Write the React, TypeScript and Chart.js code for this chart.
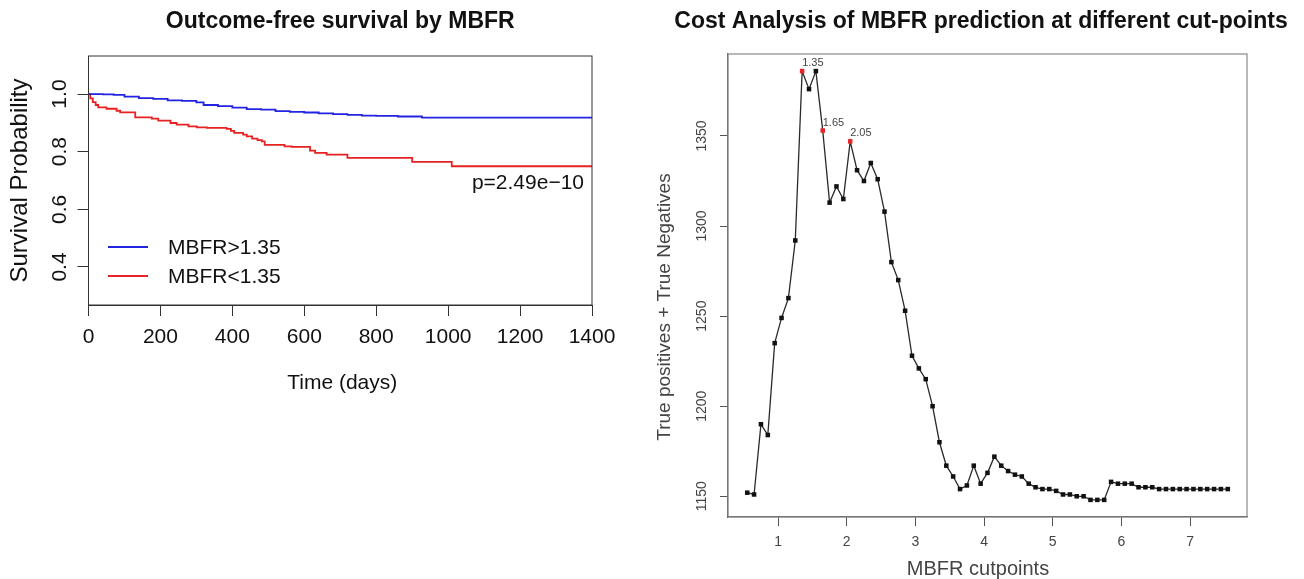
import React, { useEffect, useRef } from 'react';
import { Chart, registerables } from 'chart.js';
Chart.register(...registerables);

const FONT = '"Liberation Sans", Arial, Helvetica, sans-serif';

// ---------- Left panel: Kaplan-Meier ----------
const kmTimeHigh = [0, 40, 70, 100, 140, 180, 220, 260, 300, 320, 360, 400, 440, 480, 520, 560, 600, 640, 680, 720, 760, 800, 860, 927, 1400];
const kmSurvHigh = [1.0, 0.999, 0.997, 0.991, 0.986, 0.983, 0.978, 0.976, 0.971, 0.962, 0.958, 0.953, 0.948, 0.946, 0.941, 0.938, 0.936, 0.933, 0.930, 0.928, 0.925, 0.924, 0.922, 0.918, 0.918];
const kmTimeLow = [0, 5, 12, 20, 27, 50, 78, 88, 130, 176, 194, 228, 245, 278, 301, 329, 384, 396, 405, 430, 440, 455, 470, 482, 490, 545, 565, 616, 630, 662, 720, 900, 1010, 1400];
const kmSurvLow = [1.0, 0.985, 0.972, 0.962, 0.954, 0.949, 0.942, 0.9365, 0.919, 0.9145, 0.9076, 0.8996, 0.8938, 0.888, 0.8846, 0.8823, 0.8789, 0.872, 0.865, 0.859, 0.853, 0.8453, 0.84, 0.836, 0.8235, 0.8187, 0.8166, 0.804, 0.796, 0.79, 0.7785, 0.7647, 0.7495, 0.7495];
const kmXTicks = [0, 200, 400, 600, 800, 1000, 1200, 1400];
const kmYTicks = [0.4, 0.6, 0.8, 1.0];
const kmSeriesLabels = ['MBFR>1.35', 'MBFR<1.35'];
const kmSeriesColors = ['#2323E4', '#E62222'];
const kmTitle = 'Outcome-free survival by MBFR';
const kmXLabel = 'Time (days)';
const kmYLabel = 'Survival Probability';
const pValueText = 'p=2.49e\u221210';

// ---------- Right panel: cost analysis ----------
const cutpoints = [
  0.55, 0.65, 0.75, 0.85, 0.95, 1.05, 1.15, 1.25, 1.35, 1.45,
  1.55, 1.65, 1.75, 1.85, 1.95, 2.05, 2.15, 2.25, 2.35, 2.45,
  2.55, 2.65, 2.75, 2.85, 2.95, 3.05, 3.15, 3.25, 3.35, 3.45,
  3.55, 3.65, 3.75, 3.85, 3.95, 4.05, 4.15, 4.25, 4.35, 4.45,
  4.55, 4.65, 4.75, 4.85, 4.95, 5.05, 5.15, 5.25, 5.35, 5.45,
  5.55, 5.65, 5.75, 5.85, 5.95, 6.05, 6.15, 6.25, 6.35, 6.45,
  6.55, 6.65, 6.75, 6.85, 6.95, 7.05, 7.15, 7.25, 7.35, 7.45,
  7.55,
];
const tpTn = [
  1152, 1151, 1190, 1184, 1235, 1249, 1260, 1292, 1386, 1376,
  1386, 1353, 1313, 1322, 1315, 1347, 1331, 1325, 1335, 1326,
  1308, 1280, 1270, 1253, 1228, 1221, 1215, 1200, 1180, 1167,
  1161, 1154, 1156, 1167, 1157, 1163, 1172, 1167, 1164, 1162,
  1161, 1157, 1155, 1154, 1154, 1153, 1151, 1151, 1150, 1150,
  1148, 1148, 1148, 1158, 1157, 1157, 1157, 1155, 1155, 1155,
  1154, 1154, 1154, 1154, 1154, 1154, 1154, 1154, 1154, 1154,
  1154,
];
const highlightedCuts = [1.35, 1.65, 2.05];
const costXTicks = [1, 2, 3, 4, 5, 6, 7];
const costYTicks = [1150, 1200, 1250, 1300, 1350];
const costTitle = 'Cost Analysis of MBFR prediction at different cut-points';
const costXLabel = 'MBFR cutpoints';
const costYLabel = 'True positives + True Negatives';

const isHighlighted = (c: number) => highlightedCuts.some((h) => Math.abs(h - c) < 1e-6);

function SurvivalChart() {
  const ref = useRef<HTMLCanvasElement>(null);
  useEffect(() => {
    const overlay = {
      id: 'kmOverlay',
      afterDraw(chart: any) {
        const { ctx, chartArea } = chart;
        const cx = (chartArea.left + chartArea.right) / 2;
        const cy = (chartArea.top + chartArea.bottom) / 2;
        ctx.save();
        ctx.strokeStyle = '#333';
        ctx.lineWidth = 1;
        ctx.strokeRect(chartArea.left, chartArea.top, chartArea.right - chartArea.left, chartArea.bottom - chartArea.top);
        ctx.fillStyle = '#111';
        ctx.textAlign = 'center';
        ctx.textBaseline = 'middle';
        ctx.font = `bold 23px ${FONT}`;
        ctx.fillText(kmTitle, cx, 22);
        ctx.font = `21px ${FONT}`;
        ctx.fillText(kmXLabel, cx + 2, 383);
        ctx.save();
        ctx.translate(20, cy);
        ctx.rotate(-Math.PI / 2);
        ctx.font = `24px ${FONT}`;
        ctx.fillText(kmYLabel, 0, 0);
        ctx.restore();
        // legend
        const ys = [247, 276];
        chart.data.datasets.forEach((ds: any, i: number) => {
          ctx.strokeStyle = ds.borderColor;
          ctx.lineWidth = 1.8;
          ctx.beginPath();
          ctx.moveTo(108, ys[i]);
          ctx.lineTo(148, ys[i]);
          ctx.stroke();
          ctx.fillStyle = '#111';
          ctx.textAlign = 'left';
          ctx.font = `21px ${FONT}`;
          ctx.fillText(ds.label, 168, ys[i] + 1);
        });
        ctx.textAlign = 'right';
        ctx.fillText(pValueText, 584, 183);
        ctx.restore();
      },
    };
    const chart = new Chart(ref.current!, {
      type: 'line',
      data: {
        datasets: [
          {
            label: kmSeriesLabels[0],
            data: kmTimeHigh.map((t, i) => ({ x: t, y: kmSurvHigh[i] })),
            borderColor: kmSeriesColors[0],
            borderWidth: 1.8,
            stepped: true,
            pointRadius: 0,
            fill: false,
          },
          {
            label: kmSeriesLabels[1],
            data: kmTimeLow.map((t, i) => ({ x: t, y: kmSurvLow[i] })),
            borderColor: kmSeriesColors[1],
            borderWidth: 1.8,
            stepped: true,
            pointRadius: 0,
            fill: false,
          },
        ],
      },
      options: {
        responsive: false,
        animation: false,
        devicePixelRatio: 1,
        events: [],
        layout: { padding: { left: 0, right: 58, top: 56, bottom: 214 } },
        plugins: { legend: { display: false }, tooltip: { enabled: false }, title: { display: false } },
        scales: {
          x: {
            type: 'linear',
            min: 0,
            max: 1400,
            afterBuildTicks: (s: any) => { s.ticks = kmXTicks.map((v) => ({ value: v })); },
            afterFit: (s: any) => { s.height = 60; },
            grid: { display: true, drawOnChartArea: false, drawTicks: true, tickLength: 11, color: '#333', lineWidth: 1 },
            border: { display: true, color: '#333', width: 1 },
            ticks: { color: '#111', font: { size: 21, family: FONT }, padding: 9, maxRotation: 0, minRotation: 0, autoSkip: false, callback: (v: any) => String(v) },
          },
          y: {
            type: 'linear',
            min: 0.268,
            max: 1.132,
            afterBuildTicks: (s: any) => { s.ticks = kmYTicks.map((v) => ({ value: v })); },
            afterFit: (s: any) => { s.width = 88.5; },
            grid: { display: true, drawOnChartArea: false, drawTicks: true, tickLength: 11, color: '#333', lineWidth: 1 },
            border: { display: true, color: '#333', width: 1 },
            ticks: { color: '#111', font: { size: 21, family: FONT }, padding: 3, minRotation: 90, maxRotation: 90, crossAlign: 'center', autoSkip: false, callback: (v: any) => Number(v).toFixed(1) },
          },
        },
      },
      plugins: [overlay],
    } as any);
    return () => chart.destroy();
  }, []);
  return <canvas ref={ref} width={650} height={579} style={{ position: 'absolute', left: 0, top: 0, width: 650, height: 579 }} />;
}

function CostChart() {
  const ref = useRef<HTMLCanvasElement>(null);
  useEffect(() => {
    const overlay = {
      id: 'costOverlay',
      beforeDatasetsDraw(chart: any) {
        const { ctx, chartArea } = chart;
        ctx.save();
        ctx.strokeStyle = '#8a8a8a';
        ctx.lineWidth = 1.2;
        ctx.strokeRect(chartArea.left, chartArea.top, chartArea.right - chartArea.left, chartArea.bottom - chartArea.top);
        ctx.restore();
      },
      afterDraw(chart: any) {
        const { ctx } = chart;
        ctx.save();
        ctx.fillStyle = '#111';
        ctx.textAlign = 'center';
        ctx.textBaseline = 'middle';
        ctx.font = `bold 23px ${FONT}`;
        ctx.fillText(costTitle, 331, 22);
        ctx.fillStyle = '#444';
        ctx.font = `20px ${FONT}`;
        ctx.fillText(costXLabel, 328, 569);
        ctx.save();
        ctx.translate(15, 307);
        ctx.rotate(-Math.PI / 2);
        ctx.font = `19px ${FONT}`;
        ctx.fillText(costYLabel, 0, 0);
        ctx.restore();
        const meta = chart.getDatasetMeta(0);
        ctx.font = `11px ${FONT}`;
        ctx.textAlign = 'left';
        ctx.textBaseline = 'alphabetic';
        ctx.fillStyle = '#444';
        cutpoints.forEach((c, i) => {
          if (!isHighlighted(c)) return;
          const p = meta.data[i];
          ctx.fillText(c.toFixed(2), p.x, p.y - 5);
        });
        ctx.restore();
      },
    };
    const chart = new Chart(ref.current!, {
      type: 'line',
      data: {
        datasets: [
          {
            label: costYLabel,
            data: cutpoints.map((c, i) => ({ x: c, y: tpTn[i] })),
            borderColor: '#2a2a2a',
            borderWidth: 1.3,
            pointStyle: 'rect',
            pointRadius: 3.2,
            pointBorderWidth: 0,
            pointBackgroundColor: (ctx: any) => (isHighlighted(cutpoints[ctx.dataIndex]) ? '#E5262B' : '#111'),
            tension: 0,
            fill: false,
          },
        ],
      },
      options: {
        responsive: false,
        animation: false,
        devicePixelRatio: 1,
        events: [],
        layout: { padding: { left: 0, right: 57, top: 54, bottom: 22 } },
        plugins: { legend: { display: false }, tooltip: { enabled: false }, title: { display: false } },
        scales: {
          x: {
            type: 'linear',
            min: 0.27,
            max: 7.83,
            afterBuildTicks: (s: any) => { s.ticks = costXTicks.map((v) => ({ value: v })); },
            afterFit: (s: any) => { s.height = 40; },
            grid: { display: true, drawOnChartArea: false, drawTicks: true, tickLength: 9, color: '#555', lineWidth: 1 },
            border: { display: true, color: '#555', width: 1.2 },
            ticks: { color: '#444', font: { size: 14, family: FONT }, padding: 8, maxRotation: 0, minRotation: 0, autoSkip: false, callback: (v: any) => String(v) },
          },
          y: {
            type: 'linear',
            min: 1138.5,
            max: 1395.5,
            afterBuildTicks: (s: any) => { s.ticks = costYTicks.map((v) => ({ value: v })); },
            afterFit: (s: any) => { s.width = 78; },
            grid: { display: true, drawOnChartArea: false, drawTicks: true, tickLength: 8, color: '#555', lineWidth: 1 },
            border: { display: true, color: '#555', width: 1.2 },
            ticks: { color: '#444', font: { size: 14, family: FONT }, padding: 2, minRotation: 90, maxRotation: 90, crossAlign: 'center', autoSkip: false, callback: (v: any) => String(v) },
          },
        },
      },
      plugins: [overlay],
    } as any);
    return () => chart.destroy();
  }, []);
  return <canvas ref={ref} width={654} height={579} style={{ position: 'absolute', left: 650, top: 0, width: 654, height: 579 }} />;
}

export default function App() {
  return (
    <div style={{ position: 'fixed', left: 0, top: 0, width: 1304, height: 579, background: '#fff', overflow: 'hidden' }}>
      <SurvivalChart />
      <CostChart />
    </div>
  );
}
